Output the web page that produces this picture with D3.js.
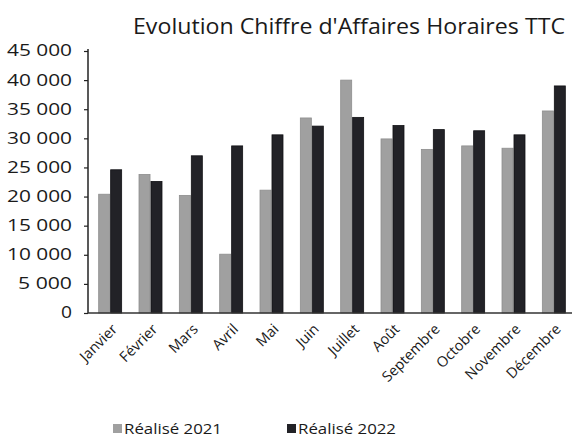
<!DOCTYPE html>
<html>
<head>
<meta charset="utf-8">
<script src="https://cdn.jsdelivr.net/npm/d3@7"></script>
<style>
  html, body { margin: 0; padding: 0; background: #fff; }
  svg { display: block; }
  text { font-family: "Open Sans", "DejaVu Sans", sans-serif; fill: #1a1a1a; }
</style>
</head>
<body>
<svg id="chart" width="572" height="439"></svg>
<script>
// Monthly hourly turnover (TTC), 2021 vs 2022
const months = ["Janvier", "Février", "Mars", "Avril", "Mai", "Juin", "Juillet", "Août", "Septembre", "Octobre", "Novembre", "Décembre"];
const realise2021 = [20400, 23800, 20200, 10100, 21100, 33500, 40000, 29900, 28100, 28700, 28300, 34700];
const realise2022 = [24600, 22600, 27000, 28700, 30600, 32100, 33600, 32200, 31500, 31300, 30600, 39000];
const seriesNames = ["Réalisé 2021", "Réalisé 2022"];
const yTicks = [0, 5000, 10000, 15000, 20000, 25000, 30000, 35000, 40000, 45000];

const colors = ["#a0a0a0", "#222227"];
const strokes = ["#8e8e8e", "#111114"];

const svg = d3.select("#chart");

const x0 = 88, yTop = 51, yBase = 313;

const y = d3.scaleLinear().domain([0, 45000]).range([yBase, yTop]);
const x = d3.scaleBand().domain(months).range([90, 574]).paddingInner(0.43).paddingOuter(0.215);
const xs = d3.scaleBand().domain([0, 1]).range([0, x.bandwidth()]).paddingInner(0.08);

const fmt = v => d3.format(",")(v).replace(/,/g, " ");
// wide geometric digits: width per digit and per space
const labelWidth = s => s.split("").reduce((w, c) => w + (c === " " ? 10 : 11), 0);

// Title
svg.append("text")
  .attr("x", 565).attr("y", 34)
  .attr("text-anchor", "end")
  .attr("font-size", 22.5)
  .attr("textLength", 432)
  .attr("lengthAdjust", "spacingAndGlyphs")
  .text("Evolution Chiffre d'Affaires Horaires TTC");

// Bars
const groups = svg.append("g").selectAll("g")
  .data(months)
  .join("g")
  .attr("transform", d => `translate(${x(d)},0)`);

groups.selectAll("rect")
  .data((d, i) => [realise2021[i], realise2022[i]])
  .join("rect")
  .attr("x", (d, j) => xs(j))
  .attr("y", d => y(d))
  .attr("width", xs.bandwidth())
  .attr("height", d => yBase - y(d))
  .attr("fill", (d, j) => colors[j])
  .attr("stroke", (d, j) => strokes[j])
  .attr("stroke-width", 0.8);

// Y axis
const yAxis = d3.axisLeft(y)
  .tickValues(yTicks)
  .tickFormat(fmt)
  .tickSize(4)
  .tickSizeOuter(0)
  .tickPadding(12);

const yg = svg.append("g")
  .attr("transform", `translate(${x0},0)`)
  .call(yAxis);
yg.select(".domain").attr("stroke", "#222").attr("stroke-width", 1.5)
  .attr("d", `M0,${yTop - 2}V${yBase}`);
yg.selectAll(".tick line").attr("stroke", "#222").attr("stroke-width", 1.2);
yg.selectAll(".tick text")
  .attr("font-size", 15.5)
  .attr("font-family", "'Open Sans', 'DejaVu Sans', sans-serif")
  .attr("fill", "#1a1a1a")
  .attr("textLength", d => labelWidth(fmt(d)))
  .attr("lengthAdjust", "spacingAndGlyphs");

// X axis baseline and rotated month labels
const xAxis = d3.axisBottom(x).tickSize(0).tickPadding(0);
const xg = svg.append("g")
  .attr("transform", `translate(0,${yBase})`)
  .call(xAxis);
xg.select(".domain").attr("stroke", "#333").attr("stroke-width", 1.3)
  .attr("d", `M${x0},0H572`);
xg.selectAll(".tick text")
  .attr("font-size", 14.5)
  .attr("font-family", "'Open Sans', 'DejaVu Sans', sans-serif")
  .attr("fill", "#1a1a1a")
  .attr("text-anchor", "end")
  .attr("dy", 0)
  .attr("transform", "translate(8,17) rotate(-45)");

// Legend
const legend = svg.append("g");
const legendX = [113, 287];
seriesNames.forEach((name, i) => {
  legend.append("rect")
    .attr("x", legendX[i]).attr("y", 424)
    .attr("width", 9).attr("height", 9)
    .attr("fill", colors[i]);
  legend.append("text")
    .attr("x", legendX[i] + 11).attr("y", 434)
    .attr("font-size", 15)
    .attr("textLength", 98)
    .attr("lengthAdjust", "spacingAndGlyphs")
    .text(name);
});
</script>
</body>
</html>
